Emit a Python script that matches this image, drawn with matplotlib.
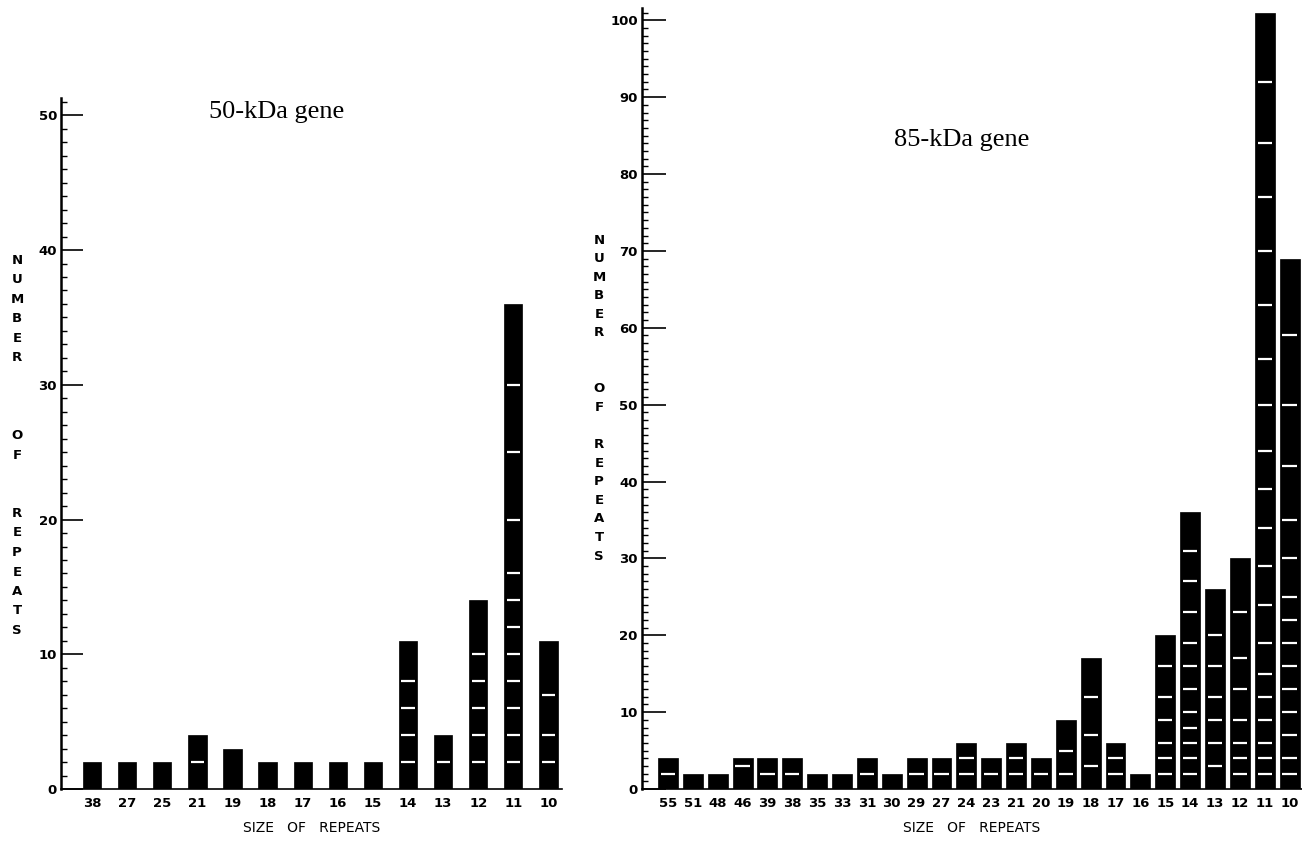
import matplotlib
matplotlib.use('Agg')
import matplotlib.pyplot as plt
from matplotlib.ticker import MultipleLocator

# 50-kDa gene
sizes_50 = ['38', '27', '25', '21', '19', '18', '17', '16', '15', '14', '13', '12', '11', '10']
counts_50 = [2, 2, 2, 4, 3, 2, 2, 2, 2, 11, 4, 14, 36, 11]
# white separator lines inside each bar (cumulative counts)
splits_50 = [[], [], [], [2], [], [], [], [], [], [2, 4, 6, 8], [2],
             [2, 4, 6, 8, 10], [2, 4, 6, 8, 10, 12, 14, 16, 20, 25, 30], [2, 4, 7]]

# 85-kDa gene
sizes_85 = ['55', '51', '48', '46', '39', '38', '35', '33', '31', '30', '29', '27', '24',
            '23', '21', '20', '19', '18', '17', '16', '15', '14', '13', '12', '11', '10']
counts_85 = [4, 2, 2, 4, 4, 4, 2, 2, 4, 2, 4, 4, 6, 4, 6, 4, 9, 17, 6, 2, 20, 36, 26, 30, 101, 69]
splits_85 = [[2], [], [], [3], [2], [2], [], [], [2], [], [2], [2], [2, 4], [2], [2, 4], [2],
             [2, 5], [3, 7, 12], [2, 4], [], [2, 4, 6, 9, 12, 16],
             [2, 4, 6, 8, 10, 13, 16, 19, 23, 27, 31],
             [3, 6, 9, 12, 16, 20],
             [2, 4, 6, 9, 13, 17, 23],
             [2, 4, 6, 9, 12, 15, 19, 24, 29, 34, 39, 44, 50, 56, 63, 70, 77, 84, 92],
             [2, 4, 7, 10, 13, 16, 19, 22, 25, 30, 35, 42, 50, 59]]

ylabel_words = ['NUMBER', 'OF', 'REPEATS']

W, H = 1302, 843


def draw_panel(ax, sizes, counts, splits, width, ymax, xlim, majlen, title, title_xy):
    x = list(range(len(sizes)))
    ax.bar(x, counts, width=width, color='black', edgecolor='black', linewidth=0.5)
    for xi, sp in zip(x, splits):
        if sp:
            ax.hlines(sp, xi - width * 0.36, xi + width * 0.36, colors='white', linewidth=1.6)
    ax.set_xlim(*xlim)
    ax.set_ylim(0, ymax)
    ax.spines['top'].set_visible(False)
    ax.spines['right'].set_visible(False)
    ax.spines['left'].set_linewidth(1.8)
    ax.spines['bottom'].set_linewidth(1.2)
    ax.yaxis.set_major_locator(MultipleLocator(10))
    ax.yaxis.set_minor_locator(MultipleLocator(1))
    ax.tick_params(axis='y', which='major', direction='in', length=majlen, width=1.2,
                   labelsize=9.5, pad=3)
    ax.tick_params(axis='y', which='minor', direction='in', length=4, width=1.0)
    ax.set_xticks(x)
    ax.set_xticklabels(sizes)
    ax.tick_params(axis='x', length=0, labelsize=9.5, pad=6)
    for lab in ax.get_xticklabels() + ax.get_yticklabels():
        lab.set_fontweight('bold')
    ax.set_xlabel('SIZE   OF   REPEATS', fontsize=10, labelpad=8)
    ax.text(title_xy[0], title_xy[1], title, transform=ax.transAxes, ha='center',
            va='center', fontsize=19, family='Liberation Serif')


def vertical_label(x_px, y_top_px, step_px, gaps):
    # stacked capital letters, gaps = extra blank steps before each word
    idx = 0
    for word, gap in zip(ylabel_words, gaps):
        idx += gap
        for ch in word:
            fig.text(x_px / W, 1 - (y_top_px + idx * step_px) / H, ch, ha='center',
                     va='center', fontsize=9.5, fontweight='bold')
            idx += 1


fig = plt.figure(figsize=(13.02, 8.43), dpi=100)

ax1 = fig.add_axes([0.047, 0.064, 0.385, 0.82])
draw_panel(ax1, sizes_50, counts_50, splits_50, 0.52, 51.3, (-0.88, 13.4), 16,
           '50-kDa gene', (0.43, 0.98))

ax2 = fig.add_axes([0.493, 0.064, 0.507, 0.9265])
draw_panel(ax2, sizes_85, counts_85, splits_85, 0.8, 101.6, (-1.05, 25.5), 17,
           '85-kDa gene', (0.485, 0.831))

vertical_label(17, 260, 19.5, [0, 3, 2])
vertical_label(599, 240, 18.6, [0, 2, 1])

fig.savefig('out.png', dpi=100)
